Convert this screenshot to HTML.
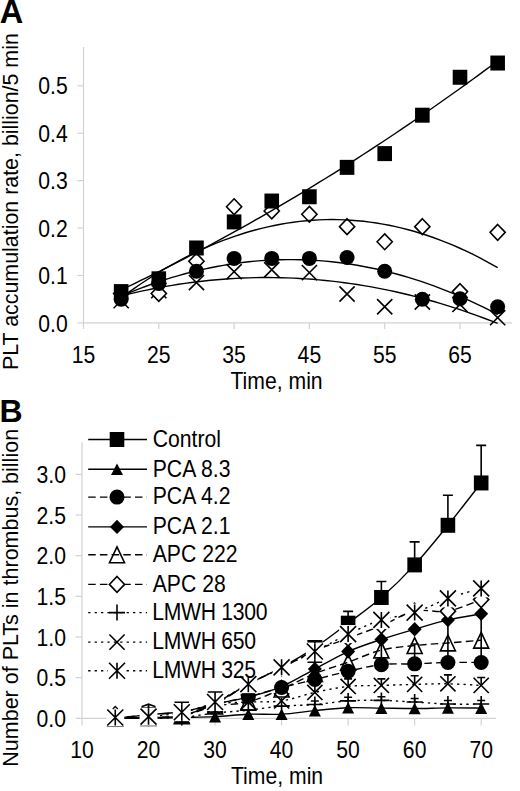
<!DOCTYPE html><html><head><meta charset="utf-8"><style>html,body{margin:0;padding:0;background:#fff;overflow:hidden}svg{display:block}</style></head><body>
<svg width="520" height="791" viewBox="0 0 520 791" style="font-family:'Liberation Sans',sans-serif">
<rect width="520" height="791" fill="#fff"/>
<text transform="translate(-0.30,23.00) scale(1,1.0)" font-size="32.5" text-anchor="start" font-weight="bold">A</text>
<path d="M83.5 47V322.9H512" stroke="#d2d2d2" stroke-width="1.2" fill="none"/>
<path d="M77.5 322.90H83.5" stroke="#d2d2d2" stroke-width="1.2"/>
<text transform="translate(67.80,331.50) scale(1,1.12)" font-size="21.2" text-anchor="end">0.0</text>
<path d="M77.5 275.48H83.5" stroke="#d2d2d2" stroke-width="1.2"/>
<text transform="translate(67.80,284.08) scale(1,1.12)" font-size="21.2" text-anchor="end">0.1</text>
<path d="M77.5 228.06H83.5" stroke="#d2d2d2" stroke-width="1.2"/>
<text transform="translate(67.80,236.66) scale(1,1.12)" font-size="21.2" text-anchor="end">0.2</text>
<path d="M77.5 180.64H83.5" stroke="#d2d2d2" stroke-width="1.2"/>
<text transform="translate(67.80,189.24) scale(1,1.12)" font-size="21.2" text-anchor="end">0.3</text>
<path d="M77.5 133.22H83.5" stroke="#d2d2d2" stroke-width="1.2"/>
<text transform="translate(67.80,141.82) scale(1,1.12)" font-size="21.2" text-anchor="end">0.4</text>
<path d="M77.5 85.80H83.5" stroke="#d2d2d2" stroke-width="1.2"/>
<text transform="translate(67.80,94.40) scale(1,1.12)" font-size="21.2" text-anchor="end">0.5</text>
<path d="M83.50 322.9V329" stroke="#d2d2d2" stroke-width="1.2"/>
<text transform="translate(83.50,362.80) scale(1,1.12)" font-size="21.2" text-anchor="middle">15</text>
<path d="M158.80 322.9V329" stroke="#d2d2d2" stroke-width="1.2"/>
<text transform="translate(158.80,362.80) scale(1,1.12)" font-size="21.2" text-anchor="middle">25</text>
<path d="M234.10 322.9V329" stroke="#d2d2d2" stroke-width="1.2"/>
<text transform="translate(234.10,362.80) scale(1,1.12)" font-size="21.2" text-anchor="middle">35</text>
<path d="M309.40 322.9V329" stroke="#d2d2d2" stroke-width="1.2"/>
<text transform="translate(309.40,362.80) scale(1,1.12)" font-size="21.2" text-anchor="middle">45</text>
<path d="M384.70 322.9V329" stroke="#d2d2d2" stroke-width="1.2"/>
<text transform="translate(384.70,362.80) scale(1,1.12)" font-size="21.2" text-anchor="middle">55</text>
<path d="M460.00 322.9V329" stroke="#d2d2d2" stroke-width="1.2"/>
<text transform="translate(460.00,362.80) scale(1,1.12)" font-size="21.2" text-anchor="middle">65</text>
<text transform="translate(276.50,389.10) scale(1,1.12)" font-size="21.2" text-anchor="middle">Time, min</text>
<text transform="translate(18.20,201.60) rotate(-90) scale(1,1.0)" font-size="21.4" text-anchor="middle">PLT accumulation rate, billion/5 min</text>
<path d="M113.55 293.01L128.75 308.21M128.75 293.01L113.55 308.21" stroke="#000" stroke-width="1.6" fill="none"/>
<path d="M151.20 283.05L166.40 298.25M166.40 283.05L151.20 298.25" stroke="#000" stroke-width="1.6" fill="none"/>
<path d="M188.85 274.99L204.05 290.19M204.05 274.99L188.85 290.19" stroke="#000" stroke-width="1.6" fill="none"/>
<path d="M226.50 264.09L241.70 279.29M241.70 264.09L226.50 279.29" stroke="#000" stroke-width="1.6" fill="none"/>
<path d="M264.15 262.19L279.35 277.39M279.35 262.19L264.15 277.39" stroke="#000" stroke-width="1.6" fill="none"/>
<path d="M301.80 265.03L317.00 280.23M317.00 265.03L301.80 280.23" stroke="#000" stroke-width="1.6" fill="none"/>
<path d="M339.45 286.37L354.65 301.57M354.65 286.37L339.45 301.57" stroke="#000" stroke-width="1.6" fill="none"/>
<path d="M377.10 299.18L392.30 314.38M392.30 299.18L377.10 314.38" stroke="#000" stroke-width="1.6" fill="none"/>
<path d="M414.75 294.44L429.95 309.64M429.95 294.44L414.75 309.64" stroke="#000" stroke-width="1.6" fill="none"/>
<path d="M452.40 296.81L467.60 312.01M467.60 296.81L452.40 312.01" stroke="#000" stroke-width="1.6" fill="none"/>
<path d="M490.05 310.08L505.25 325.28M505.25 310.08L490.05 325.28" stroke="#000" stroke-width="1.6" fill="none"/>
<path d="M121.15 285.60L128.75 293.50L121.15 301.40L113.55 293.50Z" fill="#fff" stroke="#000" stroke-width="1.6"/>
<path d="M158.80 285.60L166.40 293.50L158.80 301.40L151.20 293.50Z" fill="#fff" stroke="#000" stroke-width="1.6"/>
<path d="M196.45 253.35L204.05 261.25L196.45 269.15L188.85 261.25Z" fill="#fff" stroke="#000" stroke-width="1.6"/>
<path d="M234.10 198.82L241.70 206.72L234.10 214.62L226.50 206.72Z" fill="#fff" stroke="#000" stroke-width="1.6"/>
<path d="M271.75 203.09L279.35 210.99L271.75 218.89L264.15 210.99Z" fill="#fff" stroke="#000" stroke-width="1.6"/>
<path d="M309.40 206.41L317.00 214.31L309.40 222.21L301.80 214.31Z" fill="#fff" stroke="#000" stroke-width="1.6"/>
<path d="M347.05 218.74L354.65 226.64L347.05 234.54L339.45 226.64Z" fill="#fff" stroke="#000" stroke-width="1.6"/>
<path d="M384.70 233.91L392.30 241.81L384.70 249.71L377.10 241.81Z" fill="#fff" stroke="#000" stroke-width="1.6"/>
<path d="M422.35 218.74L429.95 226.64L422.35 234.54L414.75 226.64Z" fill="#fff" stroke="#000" stroke-width="1.6"/>
<path d="M460.00 283.70L467.60 291.60L460.00 299.50L452.40 291.60Z" fill="#fff" stroke="#000" stroke-width="1.6"/>
<path d="M497.65 224.43L505.25 232.33L497.65 240.23L490.05 232.33Z" fill="#fff" stroke="#000" stroke-width="1.6"/>
<circle cx="121.15" cy="299.19" r="7.5" fill="#000"/>
<circle cx="158.80" cy="283.54" r="7.5" fill="#000"/>
<circle cx="196.45" cy="271.21" r="7.5" fill="#000"/>
<circle cx="234.10" cy="258.41" r="7.5" fill="#000"/>
<circle cx="271.75" cy="258.41" r="7.5" fill="#000"/>
<circle cx="309.40" cy="258.41" r="7.5" fill="#000"/>
<circle cx="347.05" cy="257.46" r="7.5" fill="#000"/>
<circle cx="384.70" cy="271.21" r="7.5" fill="#000"/>
<circle cx="422.35" cy="299.19" r="7.5" fill="#000"/>
<circle cx="460.00" cy="298.72" r="7.5" fill="#000"/>
<circle cx="497.65" cy="306.78" r="7.5" fill="#000"/>
<rect x="113.85" y="284.10" width="14.6" height="15" fill="#000"/>
<rect x="151.50" y="271.30" width="14.6" height="15" fill="#000"/>
<rect x="189.15" y="240.48" width="14.6" height="15" fill="#000"/>
<rect x="226.80" y="214.40" width="14.6" height="15" fill="#000"/>
<rect x="264.45" y="193.53" width="14.6" height="15" fill="#000"/>
<rect x="302.10" y="189.26" width="14.6" height="15" fill="#000"/>
<rect x="339.75" y="159.86" width="14.6" height="15" fill="#000"/>
<rect x="377.40" y="146.11" width="14.6" height="15" fill="#000"/>
<rect x="415.05" y="107.70" width="14.6" height="15" fill="#000"/>
<rect x="452.70" y="69.76" width="14.6" height="15" fill="#000"/>
<rect x="490.35" y="55.54" width="14.6" height="15" fill="#000"/>
<polyline points="121.15,289.82 127.53,286.80 133.91,283.76 140.29,280.68 146.68,277.57 153.06,274.43 159.44,271.27 165.82,268.07 172.20,264.85 178.58,261.59 184.96,258.31 191.34,254.99 197.73,251.65 204.11,248.27 210.49,244.87 216.87,241.43 223.25,237.97 229.63,234.48 236.01,230.95 242.40,227.40 248.78,223.82 255.16,220.21 261.54,216.57 267.92,212.89 274.30,209.19 280.68,205.46 287.07,201.70 293.45,197.91 299.83,194.09 306.21,190.24 312.59,186.36 318.97,182.46 325.35,178.52 331.73,174.55 338.12,170.55 344.50,166.52 350.88,162.47 357.26,158.38 363.64,154.26 370.02,150.12 376.40,145.94 382.79,141.74 389.17,137.50 395.55,133.23 401.93,128.94 408.31,124.62 414.69,120.26 421.07,115.88 427.46,111.46 433.84,107.02 440.22,102.55 446.60,98.05 452.98,93.51 459.36,88.95 465.74,84.36 472.12,79.74 478.51,75.09 484.89,70.41 491.27,65.70 497.65,60.96" fill="none" stroke="#000" stroke-width="1.4"/>
<polyline points="121.15,297.82 127.53,293.16 133.91,288.64 140.29,284.27 146.68,280.03 153.06,275.95 159.44,272.00 165.82,268.20 172.20,264.54 178.58,261.02 184.96,257.65 191.34,254.42 197.73,251.33 204.11,248.39 210.49,245.59 216.87,242.93 223.25,240.42 229.63,238.05 236.01,235.82 242.40,233.73 248.78,231.79 255.16,229.99 261.54,228.34 267.92,226.82 274.30,225.45 280.68,224.23 287.07,223.14 293.45,222.20 299.83,221.41 306.21,220.75 312.59,220.24 318.97,219.88 325.35,219.65 331.73,219.57 338.12,219.63 344.50,219.84 350.88,220.18 357.26,220.68 363.64,221.31 370.02,222.09 376.40,223.01 382.79,224.07 389.17,225.28 395.55,226.63 401.93,228.12 408.31,229.76 414.69,231.54 421.07,233.46 427.46,235.52 433.84,237.73 440.22,240.08 446.60,242.58 452.98,245.22 459.36,248.00 465.74,250.92 472.12,253.99 478.51,257.20 484.89,260.55 491.27,264.05 497.65,267.69" fill="none" stroke="#000" stroke-width="1.4"/>
<polyline points="121.15,296.18 127.53,293.47 133.91,290.86 140.29,288.36 146.68,285.97 153.06,283.68 159.44,281.49 165.82,279.40 172.20,277.42 178.58,275.55 184.96,273.78 191.34,272.11 197.73,270.55 204.11,269.09 210.49,267.73 216.87,266.48 223.25,265.33 229.63,264.29 236.01,263.35 242.40,262.52 248.78,261.79 255.16,261.16 261.54,260.64 267.92,260.22 274.30,259.91 280.68,259.70 287.07,259.59 293.45,259.59 299.83,259.69 306.21,259.90 312.59,260.21 318.97,260.63 325.35,261.15 331.73,261.77 338.12,262.50 344.50,263.33 350.88,264.26 357.26,265.30 363.64,266.45 370.02,267.70 376.40,269.05 382.79,270.50 389.17,272.06 395.55,273.73 401.93,275.50 408.31,277.37 414.69,279.35 421.07,281.43 427.46,283.61 433.84,285.90 440.22,288.30 446.60,290.79 452.98,293.40 459.36,296.10 465.74,298.91 472.12,301.83 478.51,304.84 484.89,307.97 491.27,311.19 497.65,314.52" fill="none" stroke="#000" stroke-width="1.4"/>
<polyline points="121.15,295.94 127.53,294.37 133.91,292.86 140.29,291.43 146.68,290.07 153.06,288.77 159.44,287.55 165.82,286.40 172.20,285.32 178.58,284.31 184.96,283.37 191.34,282.50 197.73,281.70 204.11,280.97 210.49,280.31 216.87,279.72 223.25,279.20 229.63,278.75 236.01,278.37 242.40,278.07 248.78,277.83 255.16,277.66 261.54,277.57 267.92,277.54 274.30,277.58 280.68,277.70 287.07,277.88 293.45,278.14 299.83,278.46 306.21,278.86 312.59,279.32 318.97,279.86 325.35,280.47 331.73,281.14 338.12,281.89 344.50,282.71 350.88,283.60 357.26,284.55 363.64,285.58 370.02,286.68 376.40,287.85 382.79,289.09 389.17,290.40 395.55,291.78 401.93,293.23 408.31,294.75 414.69,296.34 421.07,298.00 427.46,299.73 433.84,301.54 440.22,303.41 446.60,305.35 452.98,307.36 459.36,309.45 465.74,311.60 472.12,313.82 478.51,316.12 484.89,318.48 491.27,320.92 497.65,323.42" fill="none" stroke="#000" stroke-width="1.4"/>
<text transform="translate(-0.50,422.00) scale(1,1.0)" font-size="32" text-anchor="start" font-weight="bold">B</text>
<path d="M82 442.3V718.3H496" stroke="#d2d2d2" stroke-width="1.2" fill="none"/>
<path d="M75.5 718.30H82" stroke="#d2d2d2" stroke-width="1.2"/>
<text transform="translate(66.00,726.90) scale(1,1.12)" font-size="21.2" text-anchor="end">0.0</text>
<path d="M75.5 677.65H82" stroke="#d2d2d2" stroke-width="1.2"/>
<text transform="translate(66.00,686.25) scale(1,1.12)" font-size="21.2" text-anchor="end">0.5</text>
<path d="M75.5 637.00H82" stroke="#d2d2d2" stroke-width="1.2"/>
<text transform="translate(66.00,645.60) scale(1,1.12)" font-size="21.2" text-anchor="end">1.0</text>
<path d="M75.5 596.35H82" stroke="#d2d2d2" stroke-width="1.2"/>
<text transform="translate(66.00,604.95) scale(1,1.12)" font-size="21.2" text-anchor="end">1.5</text>
<path d="M75.5 555.70H82" stroke="#d2d2d2" stroke-width="1.2"/>
<text transform="translate(66.00,564.30) scale(1,1.12)" font-size="21.2" text-anchor="end">2.0</text>
<path d="M75.5 515.05H82" stroke="#d2d2d2" stroke-width="1.2"/>
<text transform="translate(66.00,523.65) scale(1,1.12)" font-size="21.2" text-anchor="end">2.5</text>
<path d="M75.5 474.40H82" stroke="#d2d2d2" stroke-width="1.2"/>
<text transform="translate(66.00,483.00) scale(1,1.12)" font-size="21.2" text-anchor="end">3.0</text>
<path d="M82.00 718.3V725.4" stroke="#d2d2d2" stroke-width="1.2"/>
<text transform="translate(82.00,758.30) scale(1,1.12)" font-size="21.2" text-anchor="middle">10</text>
<path d="M148.53 718.3V725.4" stroke="#d2d2d2" stroke-width="1.2"/>
<text transform="translate(148.53,758.30) scale(1,1.12)" font-size="21.2" text-anchor="middle">20</text>
<path d="M215.06 718.3V725.4" stroke="#d2d2d2" stroke-width="1.2"/>
<text transform="translate(215.06,758.30) scale(1,1.12)" font-size="21.2" text-anchor="middle">30</text>
<path d="M281.59 718.3V725.4" stroke="#d2d2d2" stroke-width="1.2"/>
<text transform="translate(281.59,758.30) scale(1,1.12)" font-size="21.2" text-anchor="middle">40</text>
<path d="M348.12 718.3V725.4" stroke="#d2d2d2" stroke-width="1.2"/>
<text transform="translate(348.12,758.30) scale(1,1.12)" font-size="21.2" text-anchor="middle">50</text>
<path d="M414.65 718.3V725.4" stroke="#d2d2d2" stroke-width="1.2"/>
<text transform="translate(414.65,758.30) scale(1,1.12)" font-size="21.2" text-anchor="middle">60</text>
<path d="M481.18 718.3V725.4" stroke="#d2d2d2" stroke-width="1.2"/>
<text transform="translate(481.18,758.30) scale(1,1.12)" font-size="21.2" text-anchor="middle">70</text>
<text transform="translate(277.00,783.70) scale(1,1.12)" font-size="21.2" text-anchor="middle">Time, min</text>
<text transform="translate(18.20,597.80) rotate(-90) scale(1,1.0)" font-size="21.5" text-anchor="middle">Number of PLTs in thrombus, billion</text>
<path d="M115.27 718.30C120.81 717.69 137.44 715.73 148.53 714.64C159.62 713.56 170.71 713.76 181.79 711.80C192.88 709.83 203.97 707.46 215.06 702.85C226.15 698.25 237.24 690.08 248.32 684.15C259.41 678.23 270.50 673.42 281.59 667.32C292.68 661.23 303.77 654.93 314.86 647.57C325.94 640.21 337.03 631.53 348.12 623.18C359.21 614.83 370.30 607.20 381.38 597.49C392.47 587.77 403.56 576.92 414.65 564.89C425.74 552.85 436.83 538.95 447.91 525.29C459.00 511.64 475.64 490.00 481.18 482.94" fill="none" stroke="#000" stroke-width="1.4" />
<path d="M348.12 623.18V611.40M343.12 611.40H353.12" stroke="#000" stroke-width="1.6" fill="none"/>
<path d="M381.38 597.49V581.50M376.38 581.50H386.38" stroke="#000" stroke-width="1.6" fill="none"/>
<path d="M414.65 564.89V541.90M409.65 541.90H419.65" stroke="#000" stroke-width="1.6" fill="none"/>
<path d="M447.91 525.29V495.30M442.91 495.30H452.91" stroke="#000" stroke-width="1.6" fill="none"/>
<path d="M481.18 482.94V445.40M476.18 445.40H486.18" stroke="#000" stroke-width="1.6" fill="none"/>
<rect x="107.97" y="710.80" width="14.6" height="15" fill="#000"/>
<rect x="141.23" y="707.14" width="14.6" height="15" fill="#000"/>
<rect x="174.49" y="704.30" width="14.6" height="15" fill="#000"/>
<rect x="207.76" y="695.35" width="14.6" height="15" fill="#000"/>
<rect x="241.02" y="676.65" width="14.6" height="15" fill="#000"/>
<rect x="274.29" y="659.82" width="14.6" height="15" fill="#000"/>
<rect x="307.56" y="640.07" width="14.6" height="15" fill="#000"/>
<rect x="340.82" y="615.68" width="14.6" height="15" fill="#000"/>
<rect x="374.08" y="589.99" width="14.6" height="15" fill="#000"/>
<rect x="407.35" y="557.39" width="14.6" height="15" fill="#000"/>
<rect x="440.61" y="517.79" width="14.6" height="15" fill="#000"/>
<rect x="473.88" y="475.44" width="14.6" height="15" fill="#000"/>
<path d="M115.27 718.30C120.81 718.30 137.44 718.44 148.53 718.30C159.62 718.16 170.71 717.76 181.79 717.49C192.88 717.22 203.97 717.22 215.06 716.67C226.15 716.13 237.24 714.64 248.32 714.23C259.41 713.83 270.50 714.83 281.59 714.23C292.68 713.64 303.77 711.74 314.86 710.66C325.94 709.57 337.03 708.15 348.12 707.73C359.21 707.31 370.30 708.00 381.38 708.14C392.47 708.27 403.56 708.58 414.65 708.54C425.74 708.50 436.83 707.96 447.91 707.89C459.00 707.83 475.64 708.10 481.18 708.14" fill="none" stroke="#000" stroke-width="1.4" />
<path d="M115.27 712.50L121.27 724.10L109.27 724.10Z" fill="#000"/>
<path d="M148.53 712.50L154.53 724.10L142.53 724.10Z" fill="#000"/>
<path d="M181.79 711.69L187.79 723.29L175.79 723.29Z" fill="#000"/>
<path d="M215.06 710.87L221.06 722.47L209.06 722.47Z" fill="#000"/>
<path d="M248.32 708.43L254.32 720.03L242.32 720.03Z" fill="#000"/>
<path d="M281.59 708.43L287.59 720.03L275.59 720.03Z" fill="#000"/>
<path d="M314.86 704.86L320.86 716.46L308.86 716.46Z" fill="#000"/>
<path d="M348.12 701.93L354.12 713.53L342.12 713.53Z" fill="#000"/>
<path d="M381.38 702.34L387.38 713.94L375.38 713.94Z" fill="#000"/>
<path d="M414.65 702.74L420.65 714.34L408.65 714.34Z" fill="#000"/>
<path d="M447.91 702.09L453.91 713.69L441.91 713.69Z" fill="#000"/>
<path d="M481.18 702.34L487.18 713.94L475.18 713.94Z" fill="#000"/>
<path d="M115.27 718.30C120.81 718.16 137.44 717.89 148.53 717.49C159.62 717.08 170.71 718.03 181.79 715.86C192.88 713.69 203.97 707.66 215.06 704.48C226.15 701.29 237.24 699.57 248.32 696.76C259.41 693.94 270.50 690.44 281.59 687.57C292.68 684.70 303.77 682.24 314.86 679.52C325.94 676.80 337.03 673.71 348.12 671.23C359.21 668.75 370.30 665.88 381.38 664.64C392.47 663.41 403.56 664.19 414.65 663.83C425.74 663.46 436.83 662.68 447.91 662.45C459.00 662.22 475.64 662.45 481.18 662.45" fill="none" stroke="#000" stroke-width="1.4" stroke-dasharray="7.5 4.2"/>
<path d="M381.38 664.64V639.44M377.38 639.44H385.38" stroke="#000" stroke-width="1.6" fill="none"/>
<path d="M414.65 663.83V644.00M410.65 644.00H418.65" stroke="#000" stroke-width="1.6" fill="none"/>
<path d="M447.91 662.45V619.93M443.91 619.93H451.91" stroke="#000" stroke-width="1.6" fill="none"/>
<path d="M481.18 662.45V613.83M477.18 613.83H485.18" stroke="#000" stroke-width="1.6" fill="none"/>
<circle cx="115.27" cy="718.30" r="7.5" fill="#000"/>
<circle cx="148.53" cy="717.49" r="7.5" fill="#000"/>
<circle cx="181.79" cy="715.86" r="7.5" fill="#000"/>
<circle cx="215.06" cy="704.48" r="7.5" fill="#000"/>
<circle cx="248.32" cy="696.76" r="7.5" fill="#000"/>
<circle cx="281.59" cy="687.57" r="7.5" fill="#000"/>
<circle cx="314.86" cy="679.52" r="7.5" fill="#000"/>
<circle cx="348.12" cy="671.23" r="7.5" fill="#000"/>
<circle cx="381.38" cy="664.64" r="7.5" fill="#000"/>
<circle cx="414.65" cy="663.83" r="7.5" fill="#000"/>
<circle cx="447.91" cy="662.45" r="7.5" fill="#000"/>
<circle cx="481.18" cy="662.45" r="7.5" fill="#000"/>
<path d="M115.27 718.30C120.81 718.16 137.44 717.89 148.53 717.49C159.62 717.08 170.71 718.03 181.79 715.86C192.88 713.69 203.97 707.60 215.06 704.48C226.15 701.36 237.24 700.14 248.32 697.16C259.41 694.18 270.50 691.28 281.59 686.59C292.68 681.90 303.77 674.87 314.86 669.03C325.94 663.19 337.03 656.48 348.12 651.55C359.21 646.62 370.30 643.15 381.38 639.44C392.47 635.73 403.56 632.53 414.65 629.28C425.74 626.02 436.83 622.50 447.91 619.93C459.00 617.35 475.64 614.85 481.18 613.83" fill="none" stroke="#000" stroke-width="1.4" />
<path d="M115.27 711.10L122.27 718.30L115.27 725.50L108.27 718.30Z" fill="#000"/>
<path d="M148.53 710.29L155.53 717.49L148.53 724.69L141.53 717.49Z" fill="#000"/>
<path d="M181.79 708.66L188.79 715.86L181.79 723.06L174.79 715.86Z" fill="#000"/>
<path d="M215.06 697.28L222.06 704.48L215.06 711.68L208.06 704.48Z" fill="#000"/>
<path d="M248.32 689.96L255.32 697.16L248.32 704.36L241.32 697.16Z" fill="#000"/>
<path d="M281.59 679.39L288.59 686.59L281.59 693.79L274.59 686.59Z" fill="#000"/>
<path d="M314.86 661.83L321.86 669.03L314.86 676.23L307.86 669.03Z" fill="#000"/>
<path d="M348.12 644.35L355.12 651.55L348.12 658.75L341.12 651.55Z" fill="#000"/>
<path d="M381.38 632.24L388.38 639.44L381.38 646.64L374.38 639.44Z" fill="#000"/>
<path d="M414.65 622.08L421.65 629.28L414.65 636.48L407.65 629.28Z" fill="#000"/>
<path d="M447.91 612.73L454.91 619.93L447.91 627.13L440.91 619.93Z" fill="#000"/>
<path d="M481.18 606.63L488.18 613.83L481.18 621.03L474.18 613.83Z" fill="#000"/>
<path d="M115.27 718.30C120.81 718.16 137.44 717.89 148.53 717.49C159.62 717.08 170.71 717.76 181.79 715.86C192.88 713.96 203.97 708.41 215.06 706.10C226.15 703.80 237.24 704.89 248.32 702.04C259.41 699.19 270.50 693.77 281.59 689.03C292.68 684.29 303.77 678.06 314.86 673.58C325.94 669.11 337.03 666.13 348.12 662.20C359.21 658.27 370.30 652.79 381.38 650.01C392.47 647.23 403.56 646.72 414.65 645.54C425.74 644.36 436.83 643.82 447.91 642.93C459.00 642.05 475.64 640.70 481.18 640.25" fill="none" stroke="#000" stroke-width="1.4" stroke-dasharray="7.5 4.2"/>
<path d="M115.27 710.40L122.77 726.20L107.77 726.20Z" fill="none" stroke="#000" stroke-width="1.6" stroke-linejoin="miter"/>
<path d="M148.53 709.59L156.03 725.39L141.03 725.39Z" fill="none" stroke="#000" stroke-width="1.6" stroke-linejoin="miter"/>
<path d="M181.79 707.96L189.29 723.76L174.29 723.76Z" fill="none" stroke="#000" stroke-width="1.6" stroke-linejoin="miter"/>
<path d="M215.06 698.20L222.56 714.00L207.56 714.00Z" fill="none" stroke="#000" stroke-width="1.6" stroke-linejoin="miter"/>
<path d="M248.32 694.14L255.82 709.94L240.82 709.94Z" fill="none" stroke="#000" stroke-width="1.6" stroke-linejoin="miter"/>
<path d="M281.59 681.13L289.09 696.93L274.09 696.93Z" fill="none" stroke="#000" stroke-width="1.6" stroke-linejoin="miter"/>
<path d="M314.86 665.68L322.36 681.48L307.36 681.48Z" fill="none" stroke="#000" stroke-width="1.6" stroke-linejoin="miter"/>
<path d="M348.12 654.30L355.62 670.10L340.62 670.10Z" fill="none" stroke="#000" stroke-width="1.6" stroke-linejoin="miter"/>
<path d="M381.38 642.11L388.88 657.91L373.88 657.91Z" fill="none" stroke="#000" stroke-width="1.6" stroke-linejoin="miter"/>
<path d="M414.65 637.64L422.15 653.44L407.15 653.44Z" fill="none" stroke="#000" stroke-width="1.6" stroke-linejoin="miter"/>
<path d="M447.91 635.03L455.41 650.83L440.41 650.83Z" fill="none" stroke="#000" stroke-width="1.6" stroke-linejoin="miter"/>
<path d="M481.18 632.35L488.68 648.15L473.68 648.15Z" fill="none" stroke="#000" stroke-width="1.6" stroke-linejoin="miter"/>
<path d="M115.27 718.30C120.81 717.69 137.44 715.73 148.53 714.64C159.62 713.56 170.71 713.63 181.79 711.80C192.88 709.97 203.97 708.27 215.06 703.67C226.15 699.06 237.24 690.12 248.32 684.15C259.41 678.19 270.50 673.45 281.59 667.89C292.68 662.34 303.77 655.77 314.86 650.82C325.94 645.88 337.03 642.42 348.12 638.22C359.21 634.02 370.30 630.13 381.38 625.62C392.47 621.11 403.56 613.56 414.65 611.15C425.74 608.73 436.83 613.07 447.91 611.15C459.00 609.22 475.64 601.53 481.18 599.60" fill="none" stroke="#000" stroke-width="1.4" stroke-dasharray="7.5 4.2"/>
<path d="M115.27 710.40L122.86 718.30L115.27 726.20L107.67 718.30Z" fill="#fff" stroke="#000" stroke-width="1.6"/>
<path d="M148.53 706.74L156.13 714.64L148.53 722.54L140.93 714.64Z" fill="#fff" stroke="#000" stroke-width="1.6"/>
<path d="M181.79 703.90L189.39 711.80L181.79 719.70L174.19 711.80Z" fill="#fff" stroke="#000" stroke-width="1.6"/>
<path d="M215.06 695.77L222.66 703.67L215.06 711.57L207.46 703.67Z" fill="#fff" stroke="#000" stroke-width="1.6"/>
<path d="M248.32 676.25L255.92 684.15L248.32 692.05L240.72 684.15Z" fill="#fff" stroke="#000" stroke-width="1.6"/>
<path d="M281.59 659.99L289.19 667.89L281.59 675.79L273.99 667.89Z" fill="#fff" stroke="#000" stroke-width="1.6"/>
<path d="M314.86 642.92L322.46 650.82L314.86 658.72L307.25 650.82Z" fill="#fff" stroke="#000" stroke-width="1.6"/>
<path d="M348.12 630.32L355.72 638.22L348.12 646.12L340.52 638.22Z" fill="#fff" stroke="#000" stroke-width="1.6"/>
<path d="M381.38 617.72L388.99 625.62L381.38 633.52L373.78 625.62Z" fill="#fff" stroke="#000" stroke-width="1.6"/>
<path d="M414.65 603.25L422.25 611.15L414.65 619.05L407.05 611.15Z" fill="#fff" stroke="#000" stroke-width="1.6"/>
<path d="M447.91 603.25L455.51 611.15L447.91 619.05L440.31 611.15Z" fill="#fff" stroke="#000" stroke-width="1.6"/>
<path d="M481.18 591.70L488.78 599.60L481.18 607.50L473.58 599.60Z" fill="#fff" stroke="#000" stroke-width="1.6"/>
<path d="M115.27 718.30C120.81 718.30 137.44 718.44 148.53 718.30C159.62 718.16 170.71 718.37 181.79 717.49C192.88 716.61 203.97 714.24 215.06 713.02C226.15 711.80 237.24 711.32 248.32 710.17C259.41 709.02 270.50 707.04 281.59 706.10C292.68 705.17 303.77 705.43 314.86 704.56C325.94 703.69 337.03 701.59 348.12 700.90C359.21 700.21 370.30 700.22 381.38 700.41C392.47 700.60 403.56 701.43 414.65 702.04C425.74 702.65 436.83 703.73 447.91 704.07C459.00 704.41 475.64 704.07 481.18 704.07" fill="none" stroke="#000" stroke-width="1.4" stroke-dasharray="2.3 4.1"/>
<path d="M314.86 704.56V700.96M310.86 700.96H318.86" stroke="#000" stroke-width="1.6" fill="none"/>
<path d="M348.12 700.90V697.30M344.12 697.30H352.12" stroke="#000" stroke-width="1.6" fill="none"/>
<path d="M381.38 700.41V696.81M377.38 696.81H385.38" stroke="#000" stroke-width="1.6" fill="none"/>
<path d="M414.65 702.04V698.44M410.65 698.44H418.65" stroke="#000" stroke-width="1.6" fill="none"/>
<path d="M447.91 704.07V700.47M443.91 700.47H451.91" stroke="#000" stroke-width="1.6" fill="none"/>
<path d="M481.18 704.07V700.47M477.18 700.47H485.18" stroke="#000" stroke-width="1.6" fill="none"/>
<path d="M107.27 718.30L123.27 718.30M115.27 710.30L115.27 726.30" stroke="#000" stroke-width="1.6" fill="none"/>
<path d="M140.53 718.30L156.53 718.30M148.53 710.30L148.53 726.30" stroke="#000" stroke-width="1.6" fill="none"/>
<path d="M173.79 717.49L189.79 717.49M181.79 709.49L181.79 725.49" stroke="#000" stroke-width="1.6" fill="none"/>
<path d="M207.06 713.02L223.06 713.02M215.06 705.02L215.06 721.02" stroke="#000" stroke-width="1.6" fill="none"/>
<path d="M240.32 710.17L256.32 710.17M248.32 702.17L248.32 718.17" stroke="#000" stroke-width="1.6" fill="none"/>
<path d="M273.59 706.10L289.59 706.10M281.59 698.10L281.59 714.10" stroke="#000" stroke-width="1.6" fill="none"/>
<path d="M306.86 704.56L322.86 704.56M314.86 696.56L314.86 712.56" stroke="#000" stroke-width="1.6" fill="none"/>
<path d="M340.12 700.90L356.12 700.90M348.12 692.90L348.12 708.90" stroke="#000" stroke-width="1.6" fill="none"/>
<path d="M373.38 700.41L389.38 700.41M381.38 692.41L381.38 708.41" stroke="#000" stroke-width="1.6" fill="none"/>
<path d="M406.65 702.04L422.65 702.04M414.65 694.04L414.65 710.04" stroke="#000" stroke-width="1.6" fill="none"/>
<path d="M439.91 704.07L455.91 704.07M447.91 696.07L447.91 712.07" stroke="#000" stroke-width="1.6" fill="none"/>
<path d="M473.18 704.07L489.18 704.07M481.18 696.07L481.18 712.07" stroke="#000" stroke-width="1.6" fill="none"/>
<path d="M115.27 718.30C120.81 718.16 137.44 717.89 148.53 717.49C159.62 717.08 170.71 718.03 181.79 715.86C192.88 713.69 203.97 706.78 215.06 704.48C226.15 702.18 237.24 702.64 248.32 702.04C259.41 701.44 270.50 702.50 281.59 700.90C292.68 699.30 303.77 694.86 314.86 692.45C325.94 690.03 337.03 687.60 348.12 686.43C359.21 685.27 370.30 685.79 381.38 685.45C392.47 685.12 403.56 684.67 414.65 684.40C425.74 684.13 436.83 683.67 447.91 683.83C459.00 683.99 475.64 685.12 481.18 685.37" fill="none" stroke="#000" stroke-width="1.4" stroke-dasharray="2.3 4.1"/>
<path d="M314.86 692.45V684.45M310.86 684.45H318.86" stroke="#000" stroke-width="1.6" fill="none"/>
<path d="M348.12 686.43V678.83M344.12 678.83H352.12" stroke="#000" stroke-width="1.6" fill="none"/>
<path d="M381.38 685.45V678.85M377.38 678.85H385.38" stroke="#000" stroke-width="1.6" fill="none"/>
<path d="M414.65 684.40V675.80M410.65 675.80H418.65" stroke="#000" stroke-width="1.6" fill="none"/>
<path d="M447.91 683.83V674.83M443.91 674.83H451.91" stroke="#000" stroke-width="1.6" fill="none"/>
<path d="M481.18 685.37V677.57M477.18 677.57H485.18" stroke="#000" stroke-width="1.6" fill="none"/>
<path d="M107.67 710.70L122.86 725.90M122.86 710.70L107.67 725.90" stroke="#000" stroke-width="1.6" fill="none"/>
<path d="M140.93 709.89L156.13 725.09M156.13 709.89L140.93 725.09" stroke="#000" stroke-width="1.6" fill="none"/>
<path d="M174.19 708.26L189.39 723.46M189.39 708.26L174.19 723.46" stroke="#000" stroke-width="1.6" fill="none"/>
<path d="M207.46 696.88L222.66 712.08M222.66 696.88L207.46 712.08" stroke="#000" stroke-width="1.6" fill="none"/>
<path d="M240.72 694.44L255.92 709.64M255.92 694.44L240.72 709.64" stroke="#000" stroke-width="1.6" fill="none"/>
<path d="M273.99 693.30L289.19 708.50M289.19 693.30L273.99 708.50" stroke="#000" stroke-width="1.6" fill="none"/>
<path d="M307.25 684.85L322.46 700.05M322.46 684.85L307.25 700.05" stroke="#000" stroke-width="1.6" fill="none"/>
<path d="M340.52 678.83L355.72 694.03M355.72 678.83L340.52 694.03" stroke="#000" stroke-width="1.6" fill="none"/>
<path d="M373.78 677.85L388.99 693.05M388.99 677.85L373.78 693.05" stroke="#000" stroke-width="1.6" fill="none"/>
<path d="M407.05 676.80L422.25 692.00M422.25 676.80L407.05 692.00" stroke="#000" stroke-width="1.6" fill="none"/>
<path d="M440.31 676.23L455.51 691.43M455.51 676.23L440.31 691.43" stroke="#000" stroke-width="1.6" fill="none"/>
<path d="M473.58 677.77L488.78 692.97M488.78 677.77L473.58 692.97" stroke="#000" stroke-width="1.6" fill="none"/>
<path d="M115.27 717.49C120.81 717.35 137.44 717.54 148.53 716.67C159.62 715.81 170.71 714.72 181.79 712.28C192.88 709.84 203.97 706.73 215.06 702.04C226.15 697.35 237.24 689.94 248.32 684.15C259.41 678.37 270.50 672.76 281.59 667.32C292.68 661.89 303.77 657.09 314.86 651.55C325.94 646.01 337.03 639.34 348.12 634.07C359.21 628.80 370.30 623.50 381.38 619.93C392.47 616.35 403.56 616.20 414.65 612.61C425.74 609.02 436.83 602.42 447.91 598.38C459.00 594.34 475.64 590.05 481.18 588.38" fill="none" stroke="#000" stroke-width="1.4" stroke-dasharray="2.3 4.1"/>
<rect x="106.27" y="708.49" width="18.0" height="18.0" fill="#fff"/>
<path d="M107.27 709.49L123.27 725.49M123.27 709.49L107.27 725.49M115.27 709.49L115.27 725.49" stroke="#000" stroke-width="1.6" fill="none"/>
<rect x="139.53" y="707.67" width="18.0" height="18.0" fill="#fff"/>
<path d="M140.53 708.67L156.53 724.67M156.53 708.67L140.53 724.67M148.53 708.67L148.53 724.67" stroke="#000" stroke-width="1.6" fill="none"/>
<rect x="172.79" y="703.28" width="18.0" height="18.0" fill="#fff"/>
<path d="M173.79 704.28L189.79 720.28M189.79 704.28L173.79 720.28M181.79 704.28L181.79 720.28" stroke="#000" stroke-width="1.6" fill="none"/>
<rect x="206.06" y="693.04" width="18.0" height="18.0" fill="#fff"/>
<path d="M207.06 694.04L223.06 710.04M223.06 694.04L207.06 710.04M215.06 694.04L215.06 710.04" stroke="#000" stroke-width="1.6" fill="none"/>
<rect x="239.32" y="675.15" width="18.0" height="18.0" fill="#fff"/>
<path d="M240.32 676.15L256.32 692.15M256.32 676.15L240.32 692.15M248.32 676.15L248.32 692.15" stroke="#000" stroke-width="1.6" fill="none"/>
<rect x="272.59" y="658.32" width="18.0" height="18.0" fill="#fff"/>
<path d="M273.59 659.32L289.59 675.32M289.59 659.32L273.59 675.32M281.59 659.32L281.59 675.32" stroke="#000" stroke-width="1.6" fill="none"/>
<rect x="305.86" y="642.55" width="18.0" height="18.0" fill="#fff"/>
<path d="M306.86 643.55L322.86 659.55M322.86 643.55L306.86 659.55M314.86 643.55L314.86 659.55" stroke="#000" stroke-width="1.6" fill="none"/>
<rect x="339.12" y="625.07" width="18.0" height="18.0" fill="#fff"/>
<path d="M340.12 626.07L356.12 642.07M356.12 626.07L340.12 642.07M348.12 626.07L348.12 642.07" stroke="#000" stroke-width="1.6" fill="none"/>
<rect x="372.38" y="610.93" width="18.0" height="18.0" fill="#fff"/>
<path d="M373.38 611.93L389.38 627.93M389.38 611.93L373.38 627.93M381.38 611.93L381.38 627.93" stroke="#000" stroke-width="1.6" fill="none"/>
<rect x="405.65" y="603.61" width="18.0" height="18.0" fill="#fff"/>
<path d="M406.65 604.61L422.65 620.61M422.65 604.61L406.65 620.61M414.65 604.61L414.65 620.61" stroke="#000" stroke-width="1.6" fill="none"/>
<rect x="438.91" y="589.38" width="18.0" height="18.0" fill="#fff"/>
<path d="M439.91 590.38L455.91 606.38M455.91 590.38L439.91 606.38M447.91 590.38L447.91 606.38" stroke="#000" stroke-width="1.6" fill="none"/>
<rect x="472.18" y="579.38" width="18.0" height="18.0" fill="#fff"/>
<path d="M473.18 580.38L489.18 596.38M489.18 580.38L473.18 596.38M481.18 580.38L481.18 596.38" stroke="#000" stroke-width="1.6" fill="none"/>
<path d="M141.53 706.67L148.53 704.17L155.53 706.67M148.53 704.17V708.67" stroke="#000" stroke-width="1.5" fill="none"/>
<path d="M112.77 708.99L115.27 706.49L117.77 708.99" stroke="#000" stroke-width="1.3" fill="none"/>
<path d="M174.49 702.28H189.09M174.49 722.28H189.09M181.79 702.28V704.28M181.79 720.28V722.28" stroke="#000" stroke-width="1.6" fill="none"/>
<path d="M207.76 692.04H222.36M207.76 712.04H222.36M215.06 692.04V694.04M215.06 710.04V712.04" stroke="#000" stroke-width="1.6" fill="none"/>
<path d="M307.56 640.85H322.16M307.56 662.25H322.16M314.86 640.85V643.55M314.86 659.55V662.25" stroke="#000" stroke-width="1.6" fill="none"/>
<path d="M88.2 439.50H147" stroke="#000" stroke-width="1.4" />
<rect x="109.70" y="432.00" width="14.6" height="15" fill="#000"/>
<text transform="translate(152.70,446.80) scale(1,1.12)" font-size="21.2" text-anchor="start">Control</text>
<path d="M88.2 469.20H147" stroke="#000" stroke-width="1.4" />
<path d="M117.00 463.40L123.00 475.00L111.00 475.00Z" fill="#000"/>
<text transform="translate(152.70,476.50) scale(1,1.12)" font-size="21.2" text-anchor="start">PCA 8.3</text>
<path d="M88.2 497.10H147" stroke="#000" stroke-width="1.4" stroke-dasharray="7.5 4.2"/>
<circle cx="117.00" cy="497.10" r="7.5" fill="#000"/>
<text transform="translate(152.70,504.40) scale(1,1.12)" font-size="21.2" text-anchor="start">PCA 4.2</text>
<path d="M88.2 526.90H147" stroke="#000" stroke-width="1.4" />
<path d="M117.00 519.70L124.00 526.90L117.00 534.10L110.00 526.90Z" fill="#000"/>
<text transform="translate(152.70,534.20) scale(1,1.12)" font-size="21.2" text-anchor="start">PCA 2.1</text>
<path d="M88.2 554.80H147" stroke="#000" stroke-width="1.4" stroke-dasharray="7.5 4.2"/>
<path d="M117.00 546.90L124.50 562.70L109.50 562.70Z" fill="none" stroke="#000" stroke-width="1.6" stroke-linejoin="miter"/>
<text transform="translate(152.70,562.10) scale(1,1.12)" font-size="21.2" text-anchor="start">APC 222</text>
<path d="M88.2 584.40H147" stroke="#000" stroke-width="1.4" stroke-dasharray="7.5 4.2"/>
<path d="M117.00 576.50L124.60 584.40L117.00 592.30L109.40 584.40Z" fill="#fff" stroke="#000" stroke-width="1.6"/>
<text transform="translate(152.70,591.70) scale(1,1.12)" font-size="21.2" text-anchor="start">APC 28</text>
<path d="M88.2 612.60H147" stroke="#000" stroke-width="1.4" stroke-dasharray="2.3 4.1"/>
<path d="M109.00 612.60L125.00 612.60M117.00 604.60L117.00 620.60" stroke="#000" stroke-width="1.6" fill="none"/>
<text transform="translate(152.2,619.90) scale(1,1.12)" font-size="21.2" letter-spacing="-0.3">LMWH 1300</text>
<path d="M88.2 642.10H147" stroke="#000" stroke-width="1.4" stroke-dasharray="2.3 4.1"/>
<path d="M109.40 634.50L124.60 649.70M124.60 634.50L109.40 649.70" stroke="#000" stroke-width="1.6" fill="none"/>
<text transform="translate(152.2,649.40) scale(1,1.12)" font-size="21.2" letter-spacing="-0.3">LMWH 650</text>
<path d="M88.2 670.70H147" stroke="#000" stroke-width="1.4" stroke-dasharray="2.3 4.1"/>
<rect x="108.00" y="661.70" width="18.0" height="18.0" fill="#fff"/>
<path d="M109.00 662.70L125.00 678.70M125.00 662.70L109.00 678.70M117.00 662.70L117.00 678.70" stroke="#000" stroke-width="1.6" fill="none"/>
<text transform="translate(152.2,678.00) scale(1,1.12)" font-size="21.2" letter-spacing="-0.3">LMWH 325</text>
</svg></body></html>
